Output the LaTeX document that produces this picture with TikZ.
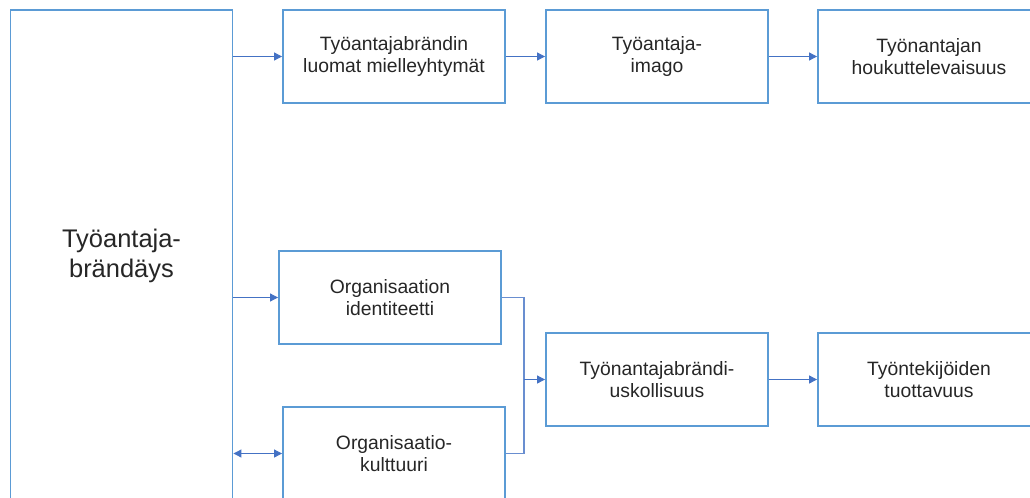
\documentclass[tikz,border=0pt]{standalone}
\usepackage{fontspec}
\setmainfont{Liberation Sans}
\usetikzlibrary{arrows.meta}
\definecolor{boxblue}{HTML}{5B9BD5}
\definecolor{arrowblue}{HTML}{4472C4}
\tikzset{
	box/.style={draw=boxblue, line width=1.1pt, rectangle, minimum width=4.44cm, minimum height=1.86cm, align=center, inner sep=2pt, font=\fontsize{11}{12.5}\selectfont, text=black!85},
	arr/.style={draw=arrowblue, line width=0.6pt, -{Triangle[length=1.6mm, width=1.6mm]}},
	darr/.style={draw=arrowblue, line width=0.6pt, {Triangle[length=1.6mm, width=1.6mm]}-{Triangle[length=1.6mm, width=1.6mm]}},
	link/.style={draw=arrowblue!80, line width=0.6pt}
}
\begin{document}
\begin{tikzpicture}[x=0.02cm, y=-0.02cm]
				\useasboundingbox (0,0) rectangle (1030,497);
				\clip (0,0) rectangle (1030,497);
				\node[box, minimum height=9.84cm, font=\fontsize{14.5}{17}\selectfont] (brand)at(121.5, 256) {Työantaja-\\brändäys};
				\node[box] (assoc)at(394, 56.5) {Työantajabrändin\\luomat mielleyhtymät};
				\node[box] (image)at(657, 56.5) {Työantaja-\\imago};
				\node[box] (attract)at(929, 56.5) {Työnantajan\\houkuttelevaisuus};
				\node[box] (ident)at(390, 297.5) {Organisaation\\identiteetti};
				\node[box] (culture)at(394, 453.5) {Organisaatio-\\kulttuuri};
				\node[box] (loyal)at(657, 379.5) {Työnantajabrändi-\\uskollisuus};
				\node[box] (product)at(929, 379.5) {Työntekijöiden\\tuottavuus};
				\coordinate (join)at(524, 379.5);
				\draw[arr] (brand.east |- assoc.west) -- (assoc.west);
				\draw[arr] (assoc) -- (image);
				\draw[arr] (image) -- (attract);
				\draw[arr] (brand.east |- ident.west) -- (ident.west);
				\draw[darr] (brand.east |- culture.west) -- (culture.west);
				\draw[link] (ident.east) -| (join) |- (culture.east);
				\draw[arr] (join) -- (loyal.west);
				\draw[arr] (loyal) -- (product);
			\end{tikzpicture}
\end{document}
